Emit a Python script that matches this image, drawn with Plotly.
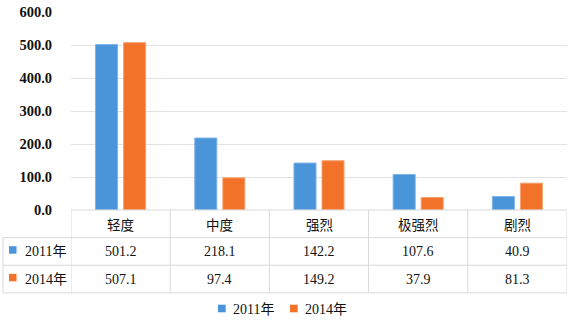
import plotly.graph_objects as go

categories = ["轻度", "中度", "强烈", "极强烈", "剧烈"]
series_names = ["2011年", "2014年"]
values_2011 = [501.2, 218.1, 142.2, 107.6, 40.9]
values_2014 = [507.1, 97.4, 149.2, 37.9, 81.3]
value_labels_2011 = ["501.2", "218.1", "142.2", "107.6", "40.9"]
value_labels_2014 = ["507.1", "97.4", "149.2", "37.9", "81.3"]

BLUE = "#4A94DA"
ORANGE = "#F2722A"
GRID = "#E2E2E2"
TXT = "#111111"
FONT = "Liberation Serif, Noto Sans CJK SC, serif"
CJK = "Noto Sans CJK SC, Liberation Serif"

W, H = 571, 321
L, R, T, B = 71, 567, 9.3, 210.0


def px(x):
    return (x - L) / (R - L)


def py(y):
    return (B - y) / (B - T)


fig = go.Figure()
fig.add_trace(go.Bar(x=list(range(len(categories))), y=values_2011, name=series_names[0],
                     marker=dict(color=BLUE, line=dict(color="#7DB3E6", width=1)),
                     showlegend=False, hoverinfo="y"))
fig.add_trace(go.Bar(x=list(range(len(categories))), y=values_2014, name=series_names[1],
                     marker=dict(color=ORANGE, line=dict(color="#F5A06E", width=1)),
                     showlegend=False, hoverinfo="y"))

shapes = []
annotations = []
line = dict(color="#D9D9D9", width=1)

# table horizontal lines
shapes.append(dict(type="line", xref="paper", yref="paper", x0=0, x1=1, y0=py(210), y1=py(210), line=line))
for yy in (238, 266, 294):
    shapes.append(dict(type="line", xref="paper", yref="paper", x0=px(3), x1=1, y0=py(yy), y1=py(yy), line=line))
# table vertical lines
shapes.append(dict(type="line", xref="paper", yref="paper", x0=px(3), x1=px(3), y0=py(238), y1=py(294), line=line))
for i in range(len(categories) + 1):
    shapes.append(dict(type="line", xref="x", yref="paper", x0=i - 0.5, x1=i - 0.5,
                       y0=py(210), y1=py(294), line=line))

# header and cell texts
rows = [(252, value_labels_2011), (280, value_labels_2014)]
for i, c in enumerate(categories):
    annotations.append(dict(x=i, y=py(224.5), xref="x", yref="paper", text=c, showarrow=False,
                            font=dict(family=CJK, size=13.5, color=TXT), xanchor="center", yanchor="middle"))
    for yy, labs in rows:
        annotations.append(dict(x=i, y=py(yy), xref="x", yref="paper", text=labs[i], showarrow=False,
                                font=dict(family=FONT, size=14, color=TXT), xanchor="center", yanchor="middle"))

# row labels with color keys
for (yy, _), name, col in zip(rows, series_names, [BLUE, ORANGE]):
    shapes.append(dict(type="rect", xref="paper", yref="paper", x0=px(9), x1=px(16.5),
                       y0=py(yy - 1.5 + 3.8), y1=py(yy - 1.5 - 3.8), fillcolor=col, line=dict(width=0)))
    annotations.append(dict(x=px(23), y=py(yy), xref="paper", yref="paper", text=name, showarrow=False,
                            font=dict(family=FONT, size=14, color=TXT), xanchor="left", yanchor="middle"))

# bottom legend
for x0, name, col in [(218, series_names[0], BLUE), (290, series_names[1], ORANGE)]:
    shapes.append(dict(type="rect", xref="paper", yref="paper", x0=px(x0), x1=px(x0 + 7.7),
                       y0=py(313.7), y1=py(306), fillcolor=col, line=dict(width=0)))
    annotations.append(dict(x=px(x0 + 13), y=py(310.5), xref="paper", yref="paper", text=name, showarrow=False,
                            font=dict(family=FONT, size=14, color=TXT), xanchor="left", yanchor="middle"))

fig.update_layout(
    width=W, height=H,
    margin=dict(l=L, r=W - R, t=T, b=H - B, pad=0),
    paper_bgcolor="white", plot_bgcolor="white",
    barmode="group", bargap=0.435, bargroupgap=0.214,
    shapes=shapes, annotations=annotations,
    font=dict(family=FONT, color=TXT),
    xaxis=dict(range=[-0.5, 4.5], showticklabels=False, showgrid=False, zeroline=False,
               showline=False, ticks=""),
    yaxis=dict(range=[0, 600], dtick=100, tickformat=".1f", showgrid=True, gridcolor=GRID,
               gridwidth=1, zeroline=False, showline=False, ticks="",
               ticklabelstandoff=18,
               tickfont=dict(family=FONT, size=14.5, color=TXT, weight="bold")),
)

fig.write_html("out.html", config={"displayModeBar": False},
               post_script="document.body.style.margin='0';document.body.style.overflow='hidden';")
